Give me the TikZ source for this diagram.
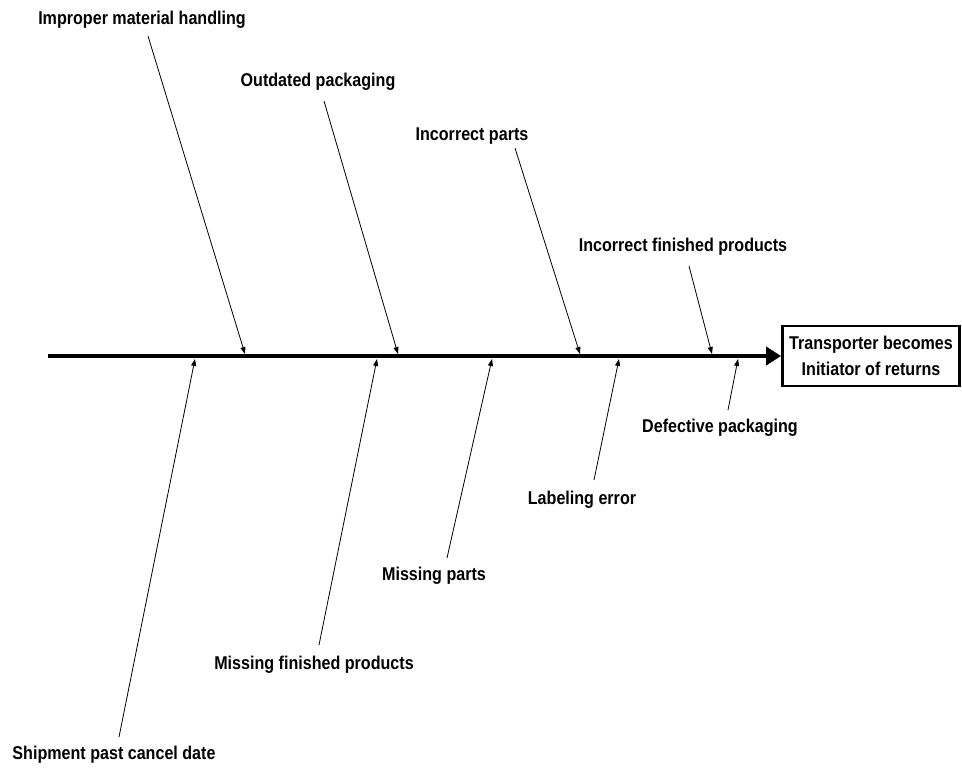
\documentclass[tikz,border=0pt]{standalone}
\usepackage{fontspec}
\setmainfont{Liberation Sans}[FakeStretch=0.87]
\usetikzlibrary{arrows.meta}
\begin{document}
\begin{tikzpicture}[x=1pt,y=-1pt,
    cause/.style={font=\bfseries\fontsize{18.5}{22}\selectfont, inner sep=1pt},
    bone/.style={line width=0.8pt, -{Triangle[length=7pt,width=5pt]}}]
  \useasboundingbox (0,0) rectangle (962,769);
  % effect box and spine
  \node[draw, line width=2.8pt, align=center, minimum width=177, minimum height=60,
    inner sep=2pt, font=\bfseries\fontsize{18.5}{26}\selectfont] (effect) at (871,356)
    {Transporter becomes\\Initiator of returns};
  \coordinate (head) at (48,356);
  \draw[line width=4pt, -{Triangle[length=15pt,width=18pt]}] (head) -- (effect.west);
  % causes above the spine
  \node[cause] (improper) at (142,20) {Improper material handling};
  \node[cause] (outdated) at (318,82) {Outdated packaging};
  \node[cause] (incparts) at (472,136) {Incorrect parts};
  \node[cause] (incfinished) at (683,247) {Incorrect finished products};
  \coordinate (improperT) at (148,36);   \coordinate (improperS) at (245,354);
  \coordinate (outdatedT) at (324,101);  \coordinate (outdatedS) at (398,354);
  \coordinate (incpartsT) at (515,148);  \coordinate (incpartsS) at (580,354);
  \coordinate (incfinishedT) at (689,266); \coordinate (incfinishedS) at (712,354);
  \draw[bone] (improperT) -- (improperS);
  \draw[bone] (outdatedT) -- (outdatedS);
  \draw[bone] (incpartsT) -- (incpartsS);
  \draw[bone] (incfinishedT) -- (incfinishedS);
  % causes below the spine
  \node[cause] (shipment) at (114,755) {Shipment past cancel date};
  \node[cause] (missfinished) at (314,665) {Missing finished products};
  \node[cause] (missparts) at (434,576) {Missing parts};
  \node[cause] (labeling) at (582,500) {Labeling error};
  \node[cause] (defective) at (720,428) {Defective packaging};
  \coordinate (shipmentT) at (119,737);   \coordinate (shipmentS) at (195,359);
  \coordinate (missfinishedT) at (319,645); \coordinate (missfinishedS) at (377,359);
  \coordinate (misspartsT) at (447,558);  \coordinate (misspartsS) at (492,359);
  \coordinate (labelingT) at (594,480);   \coordinate (labelingS) at (619,359);
  \coordinate (defectiveT) at (728,410);  \coordinate (defectiveS) at (738,359);
  \draw[bone] (shipmentT) -- (shipmentS);
  \draw[bone] (missfinishedT) -- (missfinishedS);
  \draw[bone] (misspartsT) -- (misspartsS);
  \draw[bone] (labelingT) -- (labelingS);
  \draw[bone] (defectiveT) -- (defectiveS);
\end{tikzpicture}
\end{document}
